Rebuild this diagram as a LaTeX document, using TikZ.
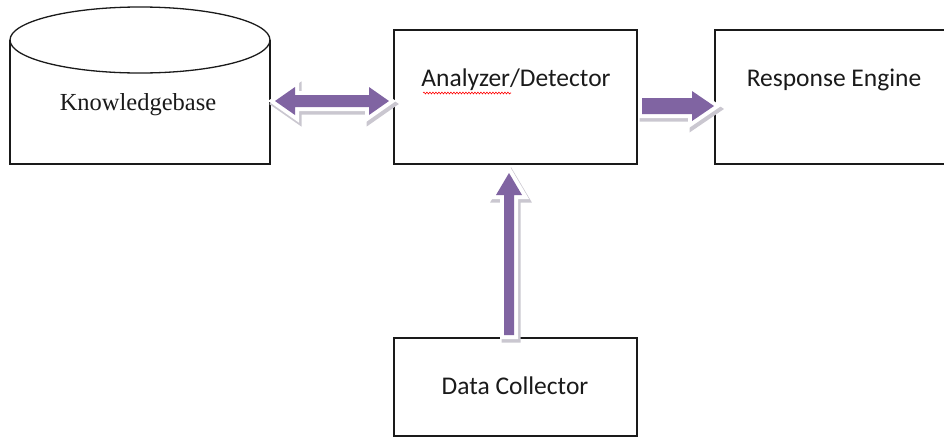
\documentclass[tikz,border=0pt]{standalone}
\usepackage{fontspec}
\setmainfont{Liberation Serif}
\newfontfamily\calib{Carlito}
\usetikzlibrary{decorations.pathmorphing}
\definecolor{arrowpurple}{HTML}{8064A2}
\definecolor{edgeshade}{HTML}{CAC7D0}
\definecolor{inkc}{HTML}{1A1A1A}
\tikzset{
  boxnode/.style={draw=inkc, line width=1.3pt, minimum width=#1},
  lbl/.style={font=\calib\fontsize{25.5}{29}\selectfont, text=inkc, inner sep=0pt},
  serlbl/.style={font=\fontsize{24.5}{28}\selectfont, text=inkc, inner sep=0pt},
  arrshadow/.style={fill=edgeshade, draw=edgeshade, line width=9pt, line join=miter, shift={(2,3)}},
  arrhalo/.style={fill=white, draw=white, line width=8pt, line join=miter},
  arrbody/.style={fill=arrowpurple, draw=none}
}
\begin{document}
\begin{tikzpicture}[x=1pt, y=-1pt]
\useasboundingbox (0,0) rectangle (944,437);
% Knowledgebase cylinder
\draw[inkc, line width=1.3pt] (10,40) -- (10,164) -- (270,164) -- (270,40);
\draw[inkc, line width=1.3pt] (140,40) ellipse [x radius=130, y radius=33];
\node[serlbl] (kbtext) at (138,105) {Knowledgebase};
% boxes
\node[boxnode=243pt, minimum height=134pt] (an) at (515.5,97) {};
\node[lbl] (antext) at (516,80) {Analyzer/Detector};
\draw[red, line width=0.6pt, decorate, decoration={snake, segment length=3pt, amplitude=0.9pt}] (423,93) -- (511,93);
\node[boxnode=240pt, minimum height=134pt] (re) at (835,97) {};
\node[lbl] (retext) at (834,80) {Response Engine};
\node[boxnode=243pt, minimum height=98pt] (dc) at (515.5,387) {};
\node[lbl] (dctext) at (515,386) {Data Collector};
% block arrows
\foreach \st in {arrshadow, arrhalo, arrbody}{
  \draw[\st] (275,101) -- (295,87) -- (295,95) -- (369,95) -- (369,87) -- (389,101)
        -- (369,115) -- (369,107) -- (295,107) -- (295,115) -- cycle;
  \draw[\st] (642,98) -- (692,98) -- (692,91) -- (714,106) -- (692,121) -- (692,114) -- (642,114) -- cycle;
  \draw[\st] (509,173) -- (522,195) -- (514,195) -- (514,335) -- (504,335) -- (504,195) -- (496,195) -- cycle;
}
\end{tikzpicture}
\end{document}
